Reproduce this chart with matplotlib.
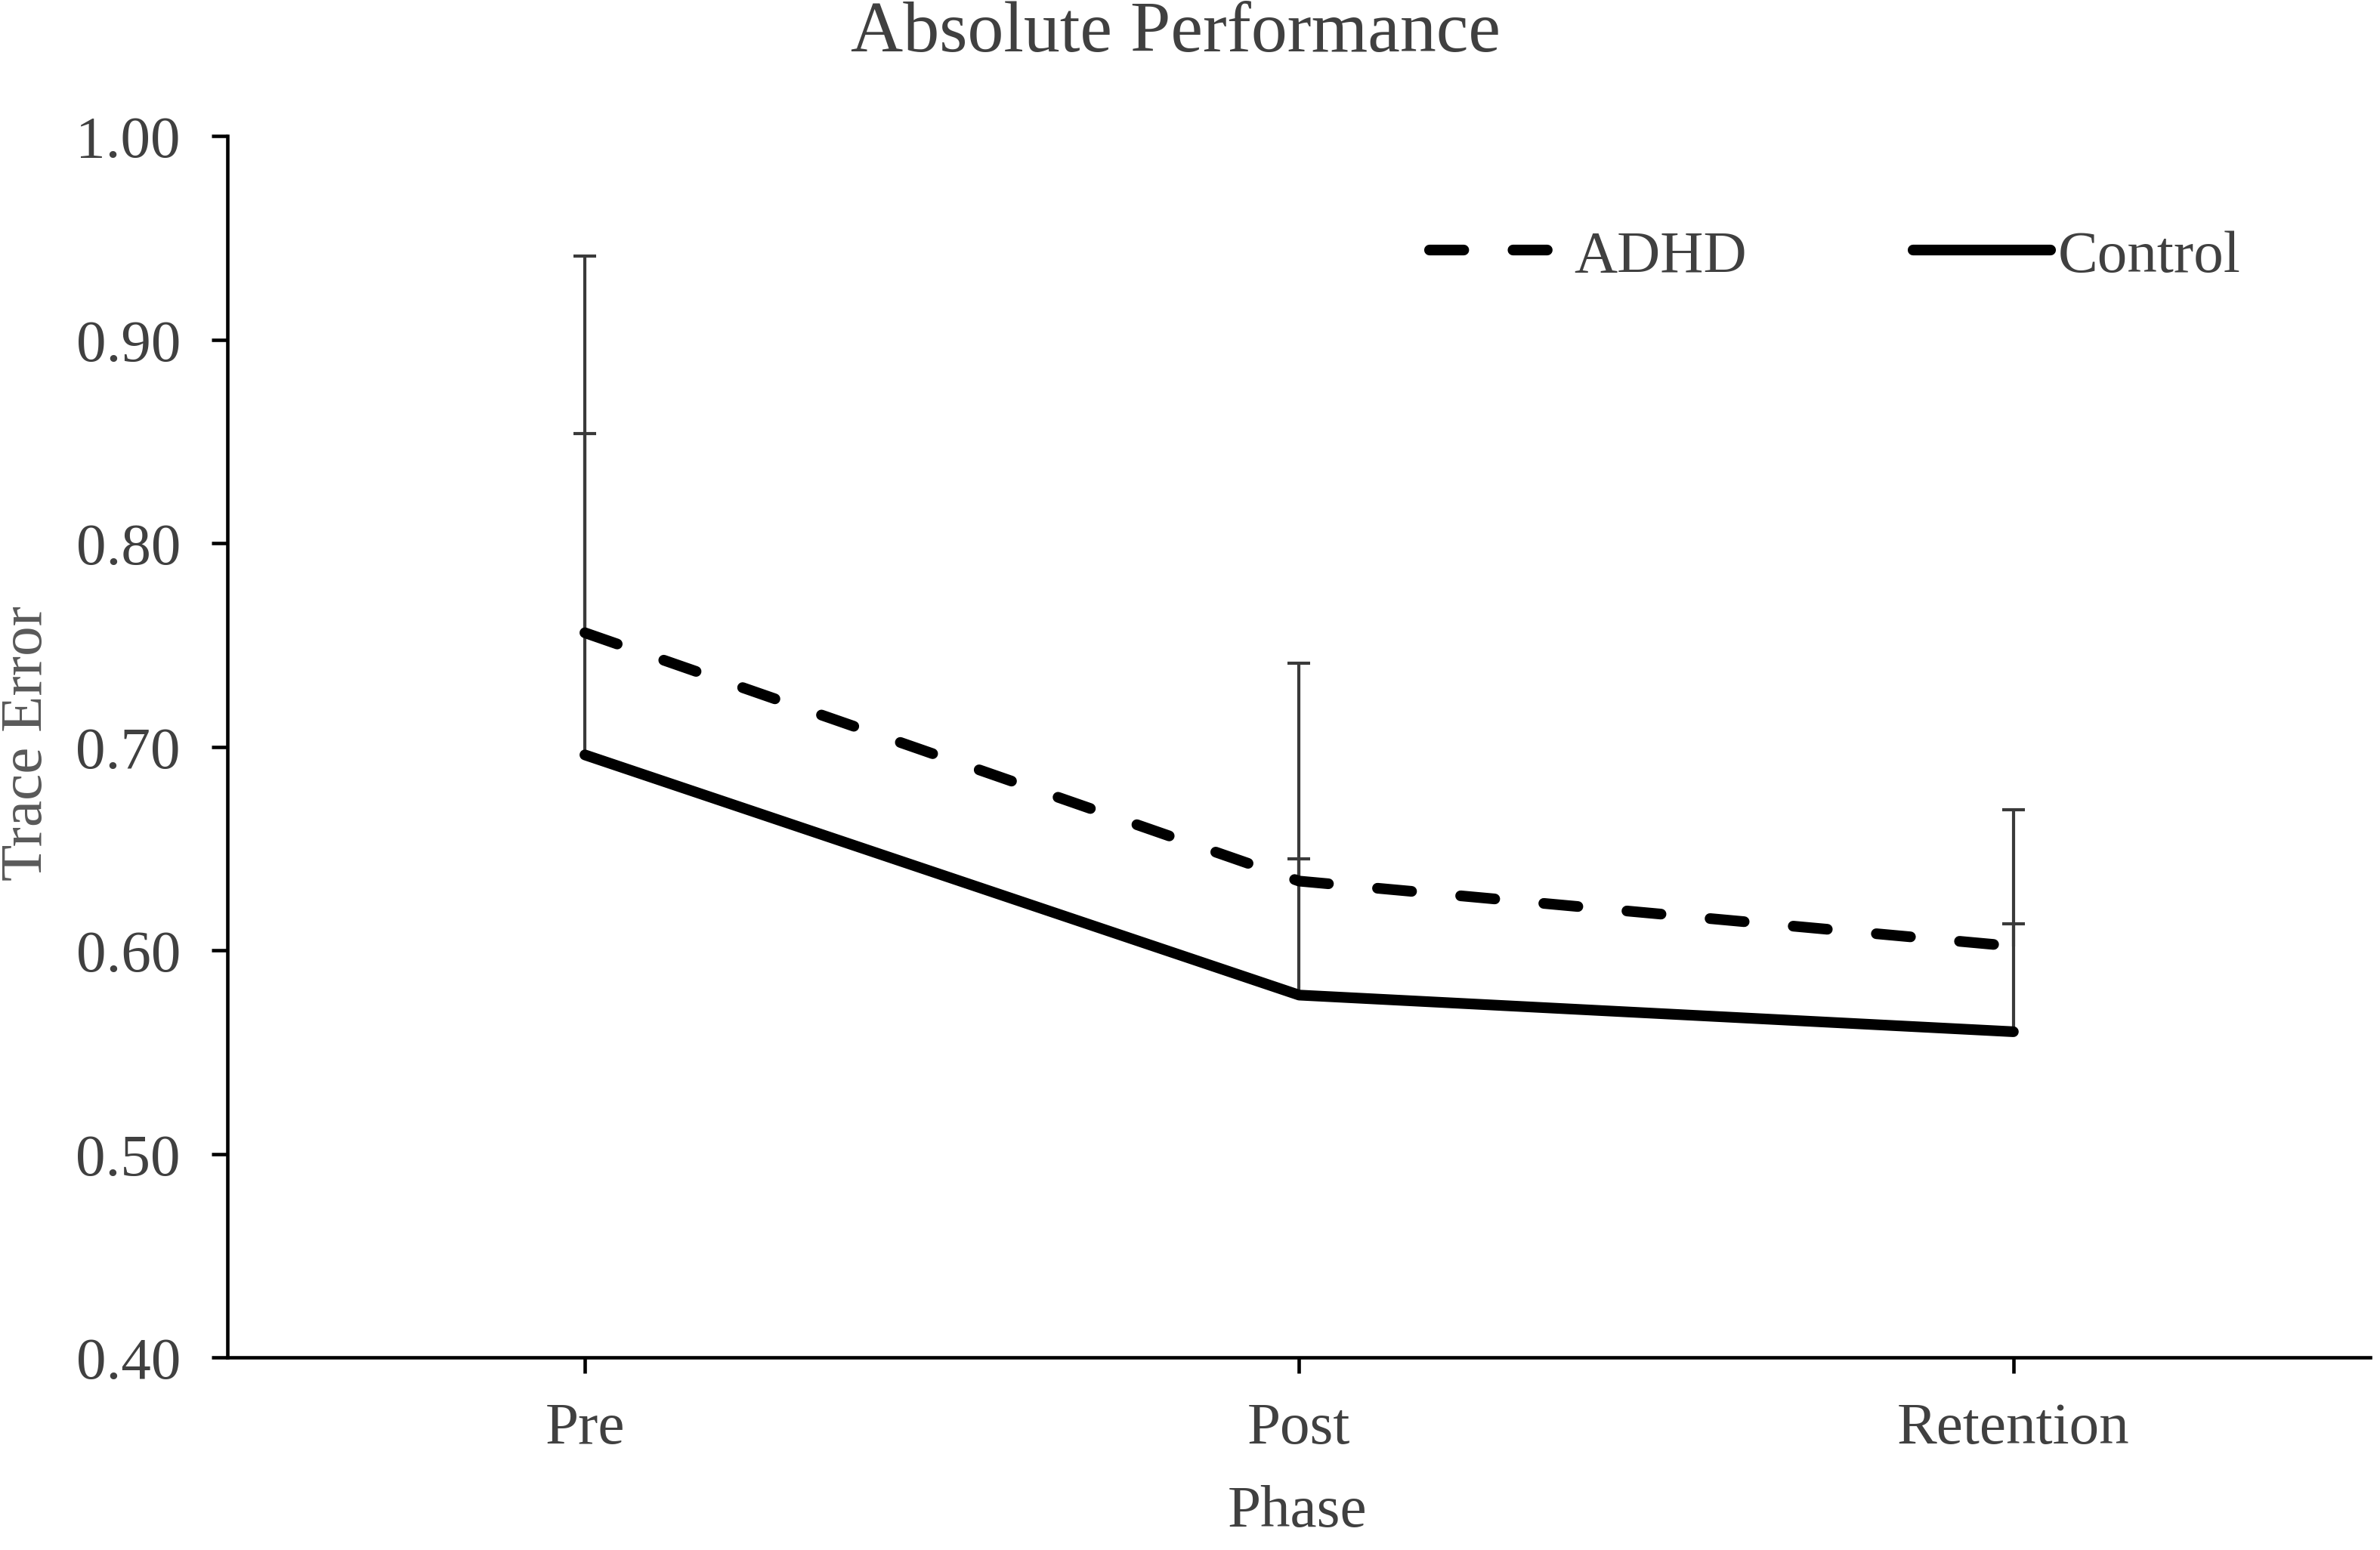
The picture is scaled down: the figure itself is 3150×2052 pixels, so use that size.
import matplotlib
matplotlib.use("Agg")
import matplotlib.pyplot as plt

phases = ["Pre", "Post", "Retention"]
adhd = [0.756, 0.634, 0.602]
adhd_err = [0.185, 0.107, 0.067]
control = [0.696, 0.578, 0.560]
control_err = [0.158, 0.067, 0.053]

plt.rcParams["font.family"] = ["Liberation Serif", "DejaVu Serif"]
text_col = "#404040"

fig = plt.figure(figsize=(10.5, 6.843), dpi=300)
ax = fig.add_axes([0.0957, 0.1242, 0.9003, 0.7876])

x = list(range(len(phases)))

# error bars (upper only), drawn under the lines
for vals, errs in ((adhd, adhd_err), (control, control_err)):
    tops = [v + e for v, e in zip(vals, errs)]
    ax.vlines(x, vals, tops, color="#3a3a3a", lw=1.0, zorder=1)
    ax.plot(x, tops, ls="none", marker="_", ms=7, mew=1.0, color="#3a3a3a", zorder=1)

ax.plot(x, adhd, color="black", lw=3.4, ls=(0, (3.2, 4.6)),
        dash_capstyle="round", label="ADHD", zorder=3)
ax.plot(x, control, color="black", lw=3.4, solid_capstyle="round",
        label="Control", zorder=3)

ax.set_xlim(-0.5, 2.5)
ax.set_ylim(0.40, 1.00)
ax.set_yticks([0.40, 0.50, 0.60, 0.70, 0.80, 0.90, 1.00])
ax.set_yticklabels([f"{v:.2f}" for v in ax.get_yticks()])
ax.set_xticks(x)
ax.set_xticklabels(phases)

for side in ("top", "right"):
    ax.spines[side].set_visible(False)
for side in ("left", "bottom"):
    ax.spines[side].set_linewidth(1.1)
    ax.spines[side].set_color("black")

ax.tick_params(axis="both", direction="out", length=5, width=1.1,
               color="black", labelsize=19, labelcolor=text_col)
ax.tick_params(axis="y", pad=10)
ax.tick_params(axis="x", pad=9)

fig.text(0.494, 0.978, "Absolute Performance", ha="center", va="center",
         fontsize=23, color=text_col)
fig.text(0.0115, 0.5207, "Trace Error", ha="center", va="center",
         rotation=90, fontsize=19, color="#595959")
fig.text(0.545, 0.0245, "Phase", ha="center", va="center",
         fontsize=19, color=text_col)

leg = ax.legend(loc="center left", bbox_to_anchor=(0.6006, 0.834),
                bbox_transform=fig.transFigure, ncol=2, frameon=False,
                fontsize=19, handlelength=2.3, handletextpad=0.12,
                columnspacing=2.78, borderpad=0, borderaxespad=0)
for t in leg.get_texts():
    t.set_color(text_col)

fig.savefig("out.png", dpi=300, facecolor="white")
